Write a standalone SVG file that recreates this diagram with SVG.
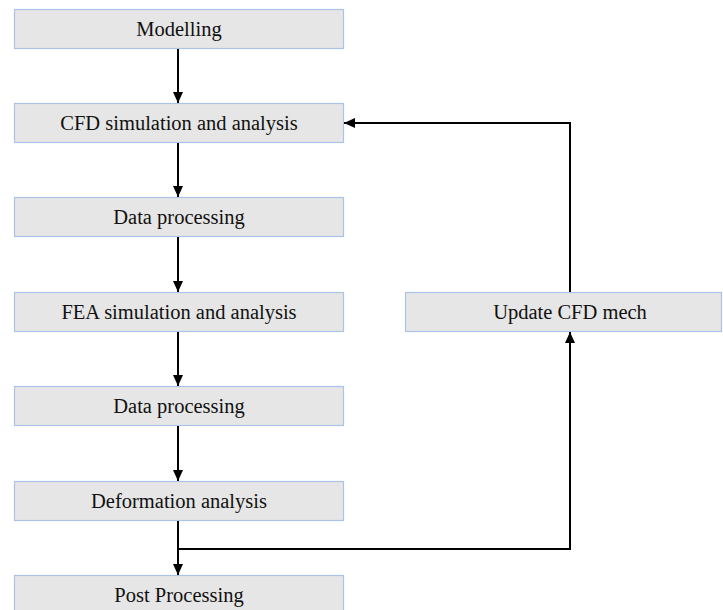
<svg xmlns="http://www.w3.org/2000/svg" width="723" height="610" viewBox="0 0 723 610">
  <style>
    .box { fill: #e6e6e6; stroke: #a9c4e8; stroke-width: 1.2; }
    .label { font-size: 20.5px; fill: #111; text-anchor: middle; }
    .wire { fill: none; stroke: #000; stroke-width: 2; }
  </style>
  <defs>
    <marker id="arrow" markerUnits="userSpaceOnUse" markerWidth="12" markerHeight="12" viewBox="0 0 12 12" refX="11" refY="6" orient="auto">
      <path d="M0,1 L11,6 L0,11 Z" fill="#000"/>
    </marker>
  </defs>

  <!-- process steps -->
  <g font-family="Liberation Serif, Times New Roman, serif">
  <g id="modelling">
    <rect class="box" x="14.5" y="9.5" width="329" height="39"/>
    <text class="label" x="179" y="36">Modelling</text>
  </g>
  <g id="cfd-simulation">
    <rect class="box" x="14.5" y="103.5" width="329" height="39"/>
    <text class="label" x="179" y="130">CFD simulation and analysis</text>
  </g>
  <g id="data-processing-1">
    <rect class="box" x="14.5" y="197.5" width="329" height="39"/>
    <text class="label" x="179" y="224">Data processing</text>
  </g>
  <g id="fea-simulation">
    <rect class="box" x="14.5" y="292.5" width="329" height="39"/>
    <text class="label" x="179" y="319">FEA simulation and analysis</text>
  </g>
  <g id="data-processing-2">
    <rect class="box" x="14.5" y="386.5" width="329" height="39"/>
    <text class="label" x="179" y="413">Data processing</text>
  </g>
  <g id="deformation-analysis">
    <rect class="box" x="14.5" y="481.5" width="329" height="39"/>
    <text class="label" x="179" y="508">Deformation analysis</text>
  </g>
  <g id="post-processing">
    <rect class="box" x="14.5" y="575.5" width="329" height="39"/>
    <text class="label" x="179" y="602">Post Processing</text>
  </g>
  <g id="update-cfd-mesh">
    <rect class="box" x="405.5" y="292.5" width="316" height="39"/>
    <text class="label" x="570" y="319">Update CFD mech</text>
  </g>
  </g>

  <!-- connectors -->
  <g id="connectors">
    <line class="wire" x1="178" y1="49" x2="178" y2="103" marker-end="url(#arrow)"/>
    <line class="wire" x1="178" y1="143" x2="178" y2="197" marker-end="url(#arrow)"/>
    <line class="wire" x1="178" y1="237" x2="178" y2="292" marker-end="url(#arrow)"/>
    <line class="wire" x1="178" y1="332" x2="178" y2="386" marker-end="url(#arrow)"/>
    <line class="wire" x1="178" y1="426" x2="178" y2="481" marker-end="url(#arrow)"/>
    <line class="wire" x1="178" y1="521" x2="178" y2="575" marker-end="url(#arrow)"/>
    <polyline class="wire" points="178,549 570,549 570,332" marker-end="url(#arrow)"/>
    <polyline class="wire" points="570,292 570,123 344,123" marker-end="url(#arrow)"/>
  </g>
</svg>
